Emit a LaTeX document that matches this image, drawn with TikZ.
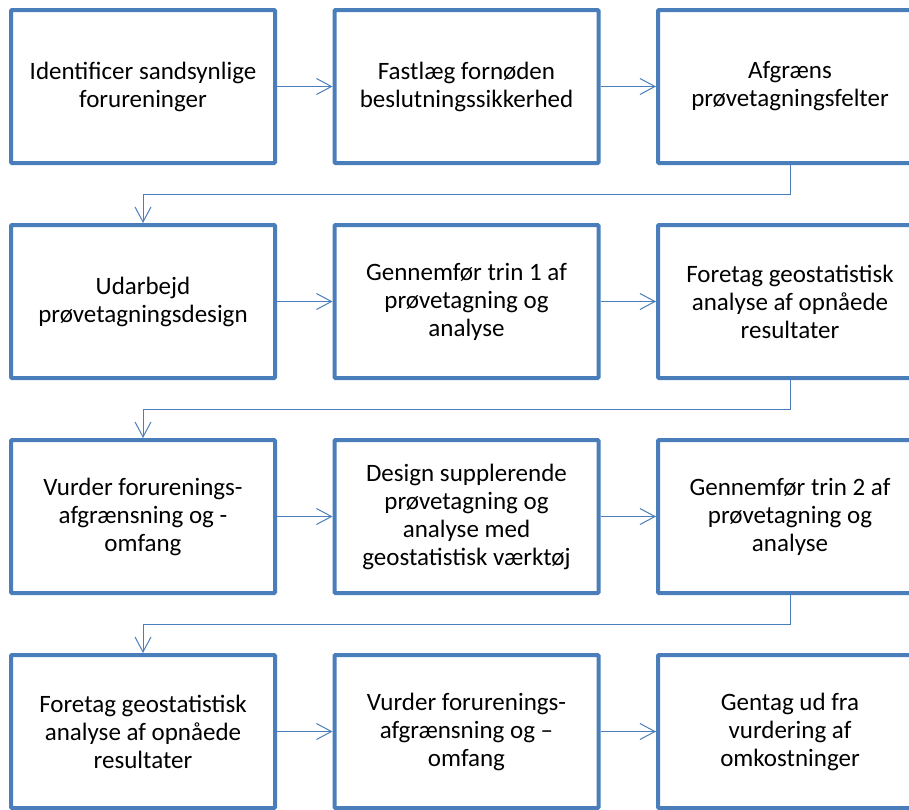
\documentclass[tikz,border=0pt]{standalone}
\usepackage{fontspec}
\setmainfont{Carlito}
\usetikzlibrary{arrows.meta}
\definecolor{boxblue}{RGB}{74,126,187}

\tikzset{
  stepbox/.style={draw=boxblue, line width=4pt, rounded corners=1pt,
    minimum width=264pt, minimum height=153pt, align=center,
    font=\fontsize{25}{28}\selectfont},
  link/.style={draw=boxblue, line width=1pt,
    -{Straight Barb[length=15pt, width=16pt, line width=1pt]}}
}

\begin{document}
\begin{tikzpicture}[x=1pt, y=-1pt]

    \useasboundingbox (0,0) rectangle (909,809);
    \clip (0,0) rectangle (909,809);

    % row 1
    \draw(143,86.5) node[stepbox] (s1) {Identificer sandsynlige\\forureninger};
    \draw(466.5,86.5) node[stepbox] (s2) {Fastlæg fornøden\\beslutningssikkerhed};
    \draw(790,86.5) node[stepbox] (s3) {Afgræns\\prøvetagningsfelter};

    % row 2
    \draw(143,301.5) node[stepbox] (s4) {Udarbejd\\prøvetagningsdesign};
    \draw(466.5,301.5) node[stepbox] (s5) {Gennemfør trin 1 af\\prøvetagning og\\analyse};
    \draw(790,301.5) node[stepbox] (s6) {Foretag geostatistisk\\analyse af opnåede\\resultater};

    % row 3
    \draw(143,516.5) node[stepbox] (s7) {Vurder forurenings-\\afgrænsning og -\\omfang};
    \draw(466.5,516.5) node[stepbox] (s8) {Design supplerende\\prøvetagning og\\analyse med\\geostatistisk værktøj};
    \draw(790,516.5) node[stepbox] (s9) {Gennemfør trin 2 af\\prøvetagning og\\analyse};

    % row 4
    \draw(143,731.5) node[stepbox] (s10) {Foretag geostatistisk\\analyse af opnåede\\resultater};
    \draw(466.5,731.5) node[stepbox] (s11) {Vurder forurenings-\\afgrænsning og –\\omfang};
    \draw(790,731.5) node[stepbox] (s12) {Gentag ud fra\\vurdering af\\omkostninger};

    % arrows within rows
    \draw[link] (s1) to (s2);
    \draw[link] (s2) to (s3);
    \draw[link] (s4) to (s5);
    \draw[link] (s5) to (s6);
    \draw[link] (s7) to (s8);
    \draw[link] (s8) to (s9);
    \draw[link] (s10) to (s11);
    \draw[link] (s11) to (s12);

    % arrows between rows
    \draw[link] (s3.south) -- ++(0,29) -| (s4.north);
    \draw[link] (s6.south) -- ++(0,29) -| (s7.north);
    \draw[link] (s9.south) -- ++(0,29) -| (s10.north);

\end{tikzpicture}
\end{document}
